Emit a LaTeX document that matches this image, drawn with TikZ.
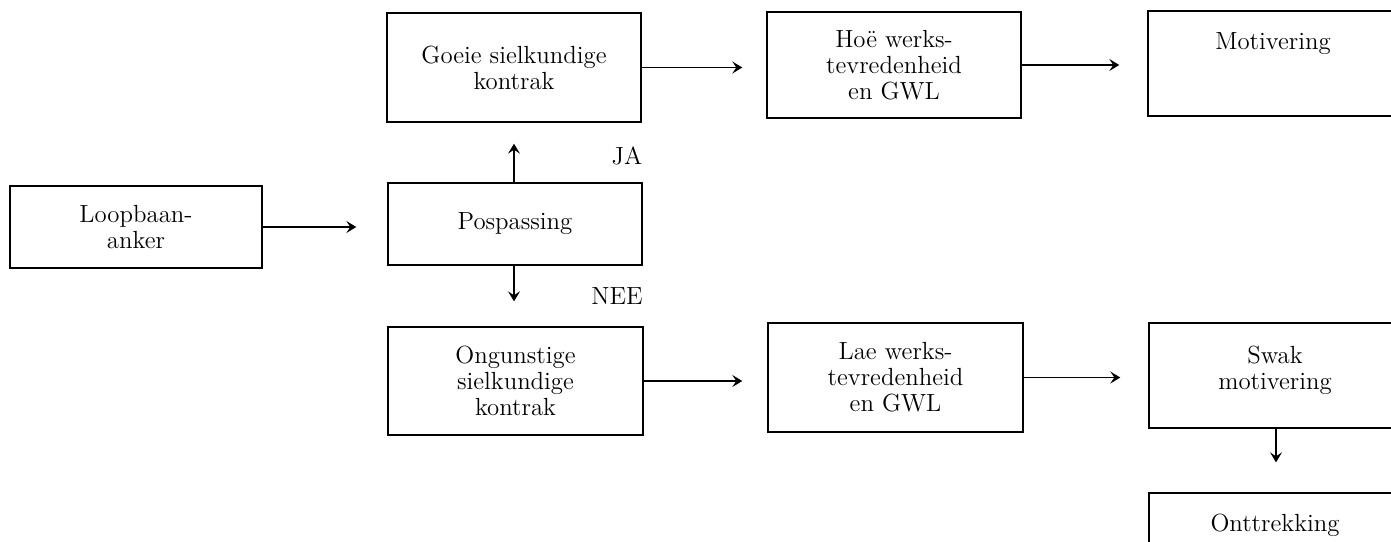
\documentclass[tikz,border=0pt]{standalone}
\usetikzlibrary{arrows.meta}
\begin{document}
\begin{tikzpicture}[x=0.5pt,y=-0.5pt,
  box/.style={draw, line width=0.7pt, inner sep=0pt, align=center, font=\fontsize{12.4}{13}\selectfont},
  txt/.style={inner sep=0pt, align=center, font=\fontsize{12.4}{13}\selectfont},
  arr/.style={-{Stealth[length=5pt,width=6pt,inset=2pt]}, line width=0.6pt}]
\useasboundingbox (0,0) rectangle (1391,541);
\clip (0,0) rectangle (1391,541);
% left column
\node[box, minimum width=126pt, minimum height=41pt] (loop) at (136,227) {Loopbaan-\\anker};
% second column
\node[box, minimum width=127pt, minimum height=54.5pt] (goe) at (514,67.5) {Goeie sielkundige\\kontrak};
\node[box, minimum width=127pt, minimum height=41pt] (pos) at (515,224) {Pospassing};
\node[box, minimum width=127.5pt, minimum height=54pt] (ong) at (515.5,381) {Ongunstige\\sielkundige\\kontrak};
% third column
\node[box, minimum width=127pt, minimum height=53pt] (hoe) at (894,65) {Ho\"e werks-\\tevredenheid\\en GWL};
\node[box, minimum width=127.5pt, minimum height=54.5pt] (lae) at (895.5,377.5) {Lae werks-\\tevredenheid\\en GWL};
% right column (cut off by the page edge)
\node[box, minimum width=127pt, minimum height=52.5pt] (mot) at (1275,63.5) {};
\node[txt, anchor=base] (mottxt) at (1273,49) {Motivering};
\node[box, minimum width=127pt, minimum height=52.5pt] (swa) at (1276,375.5) {};
\node[txt] (swatxt) at (1275,370) {Swak\\motivering};
\node[box, minimum width=127pt, minimum height=52.5pt] (ont) at (1276,545.5) {};
\node[txt, anchor=base] (onttxt) at (1275,531) {Onttrekking};
% labels
\node[txt] (ja) at (627,156) {JA};
\node[txt] (nee) at (617,296) {NEE};
% connectors
\draw[arr, shorten >=15.5pt] (loop.east) -- (loop.east -| pos.west);
\draw[arr, shorten >=12pt] (goe.east) -- (goe.east -| hoe.west);
\draw[arr, shorten >=14pt] (hoe.east) -- (hoe.east -| mot.west);
\draw[arr, shorten >=12.5pt] (ong.east) -- (ong.east -| lae.west);
\draw[arr, shorten >=14pt] (lae.east) -- (lae.east -| swa.west);
\draw[arr, shorten >=10.5pt] ([xshift=-0.5pt]pos.north) -- ([xshift=-0.5pt]pos.north |- goe.south);
\draw[arr, shorten >=12.5pt] ([xshift=-0.5pt]pos.south) -- ([xshift=-0.5pt]pos.south |- ong.north);
\draw[arr, shorten >=15pt] (swa.south) -- (ont.north);
\end{tikzpicture}
\end{document}
